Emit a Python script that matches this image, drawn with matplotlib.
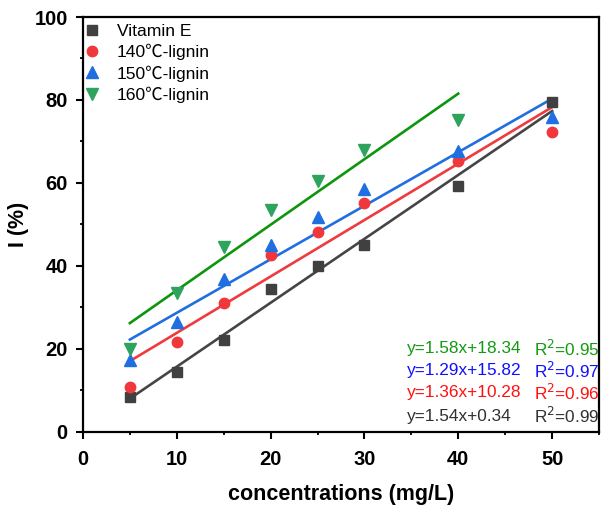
import numpy as np
import matplotlib
matplotlib.use("Agg")
import matplotlib.pyplot as plt
from matplotlib.ticker import MultipleLocator

plt.rcParams['font.family'] = ['Liberation Sans', 'Noto Sans CJK SC', 'DejaVu Sans']

# data
conc = [5, 10, 15, 20, 25, 30, 40, 50]
vit_e = [8.5, 14.5, 22.2, 34.4, 39.9, 45.1, 59.2, 79.6]
lig_140 = [10.9, 21.6, 31.0, 42.6, 48.2, 55.3, 65.4, 72.2]
lig_150 = [17.4, 26.6, 36.8, 45.1, 51.7, 58.5, 67.7, 76.0]
conc_160 = [5, 10, 15, 20, 25, 30, 40]
lig_160 = [20.0, 33.4, 44.6, 53.6, 60.6, 68.0, 75.3]

labels = ['Vitamin E', '140℃-lignin', '150℃-lignin', '160℃-lignin']
slopes = [1.54, 1.36, 1.29, 1.58]
intercepts = [0.34, 10.28, 15.82, 18.34]
r2 = ['0.99', '0.96', '0.97', '0.95']

marker_colors = ['#404040', '#f0383c', '#1f6fe0', '#2ea35e']
line_colors = ['#454545', '#ef3a3e', '#1f6fe0', '#0d960d']
text_colors = ['#303030', '#ff1010', '#1010ff', '#129a12']
markers = ['s', 'o', '^', 'v']
sizes = [7, 7.5, 8, 8]

xs = [conc, conc, conc, conc_160]
ys = [vit_e, lig_140, lig_150, lig_160]

fig = plt.figure(figsize=(6.03, 5.09), dpi=100)
ax = fig.add_axes([0.1376, 0.1513, 0.8558, 0.8153])

for i in range(4):
    x = np.array(xs[i])
    ax.plot(x, ys[i], linestyle='none', marker=markers[i], ms=sizes[i],
            color=marker_colors[i], label=labels[i], zorder=3)
    xl = np.array([x.min(), x.max()])
    ax.plot(xl, slopes[i] * xl + intercepts[i], color=line_colors[i], lw=1.9, zorder=2)

ax.set_xlim(0, 55)
ax.set_ylim(0, 100)
ax.xaxis.set_major_locator(MultipleLocator(10))
ax.xaxis.set_minor_locator(MultipleLocator(5))
ax.yaxis.set_major_locator(MultipleLocator(20))
ax.yaxis.set_minor_locator(MultipleLocator(10))
ax.tick_params(which='major', direction='out', length=5, width=1.5, labelsize=14.5)
ax.tick_params(axis='x', which='major', pad=8)
ax.tick_params(axis='y', which='major', pad=6)
ax.tick_params(which='minor', direction='out', length=2.5, width=1.3)
for lab in ax.get_xticklabels() + ax.get_yticklabels():
    lab.set_fontweight('bold')
for sp in ax.spines.values():
    sp.set_linewidth(1.6)

ax.set_xlabel('concentrations (mg/L)', fontsize=15.5, fontweight='bold', labelpad=11)
ax.set_ylabel('I (%)', fontsize=15.5, fontweight='bold', labelpad=4)

ax.legend(loc='upper left', frameon=False, fontsize=12.6, handletextpad=0.9,
          borderaxespad=0.2, labelspacing=0.27, handlelength=1.0,
          bbox_to_anchor=(-0.019, 1.008))

# fit equations, top to bottom: 160, 150, 140, Vitamin E
order = [3, 2, 1, 0]
ypix = [349, 371, 393, 416]
for k, i in enumerate(order):
    yf = 1 - ypix[k] / 509
    eq = 'y={:.2f}x+{:.2f}'.format(slopes[i], intercepts[i])
    fig.text(407 / 603, yf, eq, color=text_colors[i], fontsize=12.4, va='center', ha='left')
    fig.text(534 / 603, yf, 'R$^{2}$=' + r2[i], color=text_colors[i], fontsize=12.4,
             va='center', ha='left')

fig.savefig('out.png', dpi=100)
